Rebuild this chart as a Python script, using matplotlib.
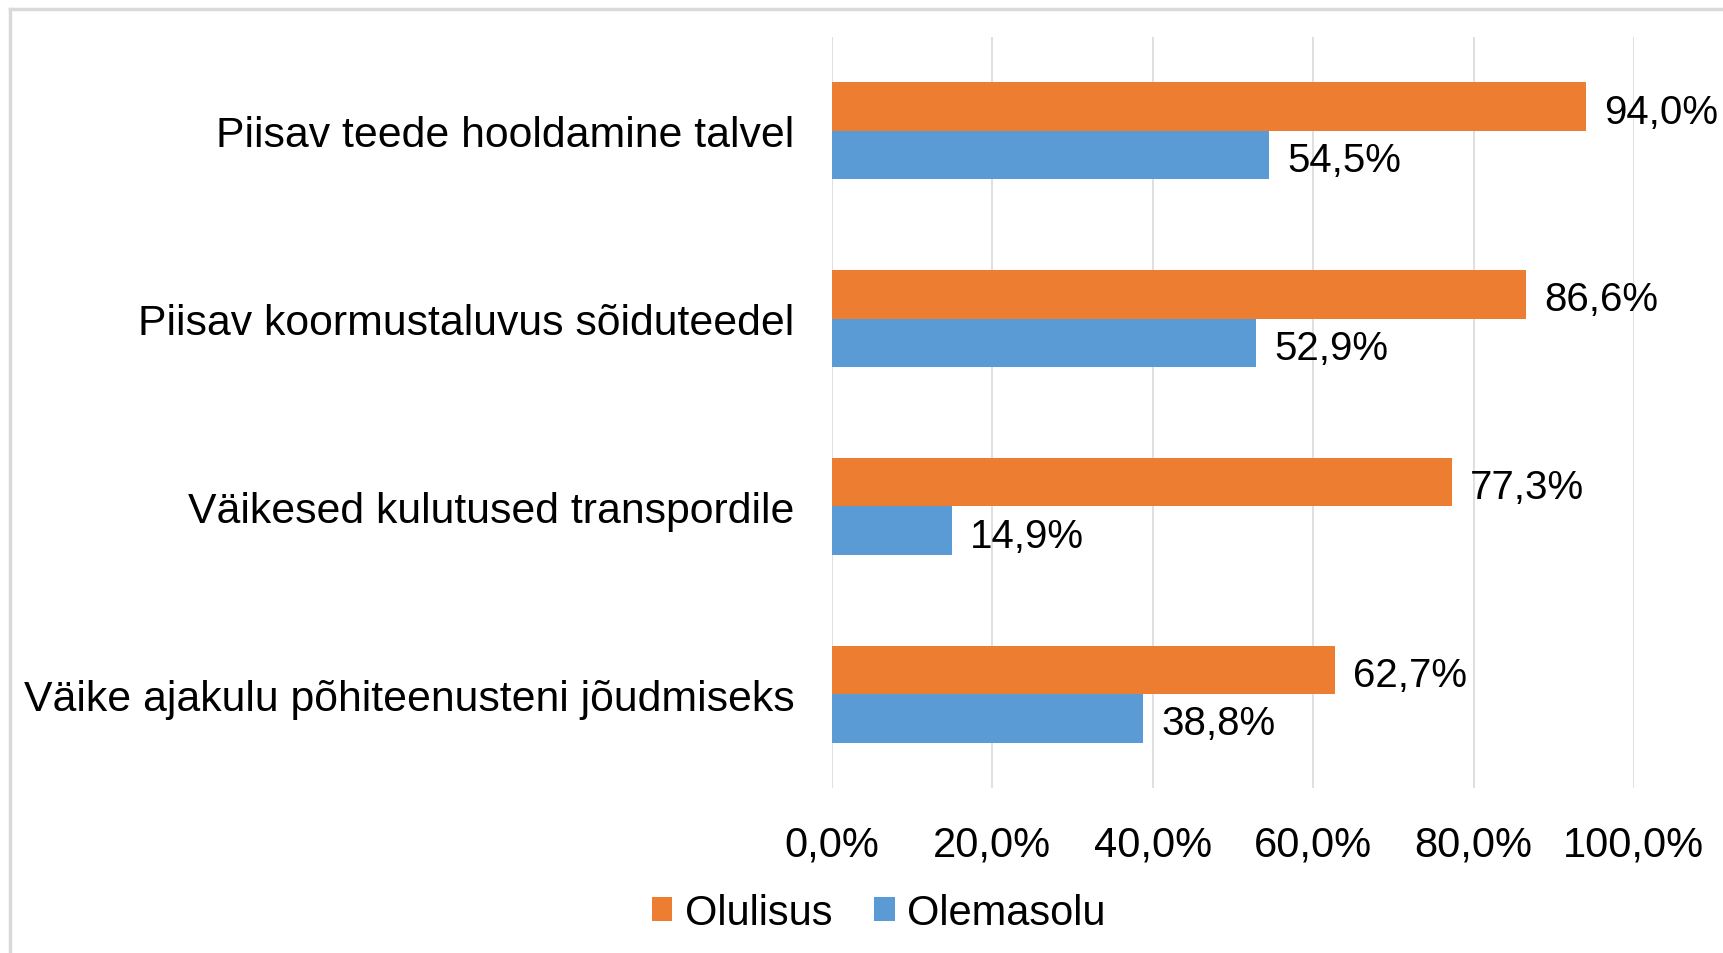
import matplotlib.pyplot as plt
from matplotlib.lines import Line2D

plt.rcParams['font.family'] = ['Liberation Sans', 'DejaVu Sans']

categories = ["Piisav teede hooldamine talvel",
              "Piisav koormustaluvus sõiduteedel",
              "Väikesed kulutused transpordile",
              "Väike ajakulu põhiteenusteni jõudmiseks"]
olulisus = [94.0, 86.6, 77.3, 62.7]
olemasolu = [54.5, 52.9, 14.9, 38.8]
series_names = ["Olulisus", "Olemasolu"]
colors = ["#ED7D31", "#5B9BD5"]
xticks = [0, 20, 40, 60, 80, 100]

fig = plt.figure(figsize=(17.23, 9.54), dpi=100)
ax = fig.add_axes([0.4829, 0.173, 0.4654, 0.7872])

# screenshot frame
fig.add_artist(Line2D([10/1723, 10/1723], [0, 1 - 10/954], color="#D9D9D9", lw=2.5, transform=fig.transFigure))
fig.add_artist(Line2D([10/1723, 1], [1 - 10/954, 1 - 10/954], color="#D9D9D9", lw=2.5, transform=fig.transFigure))

y = range(len(categories))
h = 0.258
bars1 = ax.barh([i - h/2 for i in y], olulisus, height=h, color=colors[0], label=series_names[0])
bars2 = ax.barh([i + h/2 for i in y], olemasolu, height=h, color=colors[1], label=series_names[1])

for bars in (bars1, bars2):
    for b in bars:
        v = b.get_width()
        ax.annotate(f"{v:.1f}%".replace(".", ","), (v, b.get_y() + b.get_height()/2),
                    xytext=(18, -5), textcoords="offset pixels",
                    va="center", ha="left", fontsize=29)

ax.set_xlim(0, 100)
ax.set_ylim(len(categories) - 0.5, -0.5)
ax.set_xticks(xticks)
ax.set_xticklabels([f"{t:.1f}%".replace(".", ",") for t in xticks], fontsize=30)
ax.set_yticks(list(y))
ax.set_yticklabels(categories, fontsize=30.8)
ax.tick_params(length=0, pad=27, axis="y")
ax.tick_params(length=0, pad=26, axis="x")
ax.grid(axis="x", color="#D9D9D9", lw=1.2)
ax.set_axisbelow(True)
for s in ax.spines.values():
    s.set_visible(False)

fig.legend(loc="center", bbox_to_anchor=(0.51, 1 - 914/954), ncol=2, frameon=False,
           fontsize=30, handlelength=0.5, handleheight=0.5, handletextpad=0.3, columnspacing=1.0)

fig.savefig("out.png", dpi=100)
